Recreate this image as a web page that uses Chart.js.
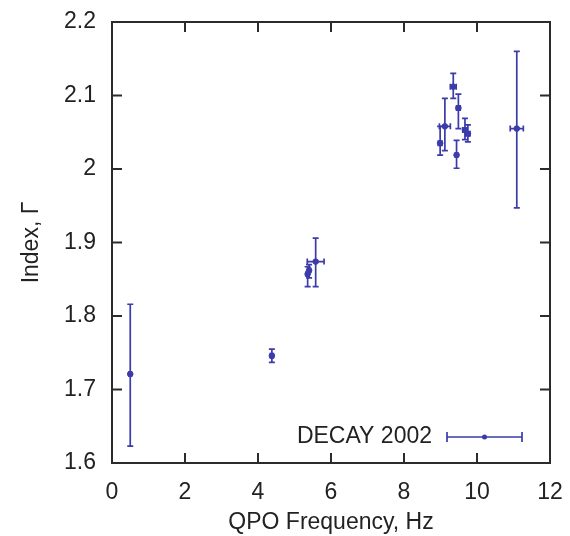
<!DOCTYPE html>
<html>
<head>
<meta charset="utf-8">
<script src="https://cdn.jsdelivr.net/npm/chart.js@4"></script>
<style>
  html, body { margin: 0; padding: 0; background: #fff; }
  #wrap { width: 570px; height: 536px; }
</style>
</head>
<body>
<div id="wrap"><canvas id="graficoQPO"></canvas></div>
<script>
// dados (DECAY 2002)
const freqQPO   = [0.5,   4.38,  5.36,  5.40,  5.58,  8.99,  9.12,  9.35,  9.49,  9.44,  9.67,  9.75,  11.09];
const indice    = [1.721, 1.746, 1.857, 1.862, 1.874, 2.035, 2.058, 2.112, 2.083, 2.019, 2.053, 2.048, 2.055];
const erroFreq  = [0.03,  0.04,  0.04,  0.04,  0.23,  0.05,  0.15,  0.08,  0.05,  0.03,  0.06,  0.06,  0.18];
const indiceMin = [1.623, 1.737, 1.840, 1.852, 1.840, 2.019, 2.025, 2.096, 2.055, 2.001, 2.040, 2.037, 1.947];
const indiceMax = [1.816, 1.755, 1.867, 1.870, 1.906, 2.058, 2.096, 2.130, 2.102, 2.039, 2.069, 2.060, 2.160];

const ticksX = [0, 2, 4, 6, 8, 10, 12];
const ticksY = [1.6, 1.7, 1.8, 1.9, 2.0, 2.1, 2.2];
const nomeSerie = 'DECAY 2002';

const corSerie = '#3b3bab';
const corEixo = '#2b2b2b';
const fonte = '"Liberation Sans", Arial, sans-serif';
const tamFonte = 23;

// zera o padding automatico das escalas, quem manda e o layout.padding
function semPadding(s) {
  s.paddingTop = 0;
  s.paddingBottom = 0;
  s.paddingLeft = 0;
  s.paddingRight = 0;
}

// barras de erro + moldura com ticks pra dentro (estilo gnuplot)
const pluginErros = {
  id: 'pluginErros',
  beforeDatasetsDraw(chart) {
    const ctx = chart.ctx;
    const sx = chart.scales.x, sy = chart.scales.y;
    ctx.save();
    ctx.strokeStyle = corSerie;
    ctx.lineWidth = 1.7;
    const cap = 3;
    freqQPO.forEach((f, i) => {
      const px = sx.getPixelForValue(f);
      const py = sy.getPixelForValue(indice[i]);
      const yTop = sy.getPixelForValue(indiceMax[i]);
      const yBot = sy.getPixelForValue(indiceMin[i]);
      const xL = sx.getPixelForValue(f - erroFreq[i]);
      const xR = sx.getPixelForValue(f + erroFreq[i]);
      ctx.beginPath();
      ctx.moveTo(px, yTop); ctx.lineTo(px, yBot);
      ctx.moveTo(px - cap, yTop); ctx.lineTo(px + cap, yTop);
      ctx.moveTo(px - cap, yBot); ctx.lineTo(px + cap, yBot);
      ctx.moveTo(xL, py); ctx.lineTo(xR, py);
      ctx.moveTo(xL, py - cap); ctx.lineTo(xL, py + cap);
      ctx.moveTo(xR, py - cap); ctx.lineTo(xR, py + cap);
      ctx.stroke();
    });
    ctx.restore();
  },
  afterDraw(chart) {
    const ctx = chart.ctx;
    const a = chart.chartArea;
    const sx = chart.scales.x, sy = chart.scales.y;
    ctx.save();
    ctx.strokeStyle = corEixo;
    ctx.lineWidth = 2;
    ctx.strokeRect(a.left, a.top, a.right - a.left, a.bottom - a.top);
    const tam = 10;
    ctx.beginPath();
    ticksX.forEach(v => {
      const p = sx.getPixelForValue(v);
      ctx.moveTo(p, a.bottom); ctx.lineTo(p, a.bottom - tam);
      ctx.moveTo(p, a.top); ctx.lineTo(p, a.top + tam);
    });
    ticksY.forEach(v => {
      const p = sy.getPixelForValue(v);
      ctx.moveTo(a.left, p); ctx.lineTo(a.left + tam, p);
      ctx.moveTo(a.right, p); ctx.lineTo(a.right - tam, p);
    });
    ctx.stroke();

    // legenda dentro do grafico, canto inferior direito
    const ly = sy.getPixelForValue(1.6) - 26;
    const lx1 = a.left + 335, lx2 = a.left + 410;
    ctx.fillStyle = '#222';
    ctx.font = tamFonte + 'px ' + fonte;
    ctx.textAlign = 'right';
    ctx.textBaseline = 'middle';
    ctx.fillText(nomeSerie, lx1 - 15, ly);
    ctx.strokeStyle = corSerie;
    ctx.lineWidth = 1.7;
    ctx.beginPath();
    ctx.moveTo(lx1, ly); ctx.lineTo(lx2, ly);
    ctx.moveTo(lx1, ly - 5); ctx.lineTo(lx1, ly + 5);
    ctx.moveTo(lx2, ly - 5); ctx.lineTo(lx2, ly + 5);
    ctx.stroke();
    ctx.fillStyle = corSerie;
    ctx.beginPath();
    ctx.arc((lx1 + lx2) / 2, ly, 2.5, 0, Math.PI * 2);
    ctx.fill();
    ctx.restore();
  }
};

document.addEventListener('DOMContentLoaded', () => {
  const ctxQPO = document.getElementById('graficoQPO');

  new Chart(ctxQPO, {
    type: 'scatter',
    data: {
      datasets: [{
        label: nomeSerie,
        data: freqQPO.map((f, i) => ({ x: f, y: indice[i] })),
        backgroundColor: corSerie,
        borderColor: corSerie,
        pointRadius: 2.8,
        pointHoverRadius: 3
      }]
    },
    options: {
      responsive: true,
      maintainAspectRatio: false,
      animation: false,
      layout: { padding: { top: 22, right: 20, left: 0, bottom: 0 } },
      plugins: {
        legend: { display: false },
        tooltip: { enabled: false }
      },
      scales: {
        x: {
          type: 'linear',
          min: 0,
          max: 12,
          afterFit: (s) => { s.height = 73; semPadding(s); },
          afterBuildTicks: (s) => { s.ticks = ticksX.map(v => ({ value: v })); },
          grid: { display: false, drawTicks: false },
          border: { display: false },
          ticks: {
            color: '#222',
            padding: 16,
            font: { family: fonte, size: tamFonte }
          },
          title: {
            display: true,
            text: 'QPO Frequency, Hz',
            color: '#222',
            padding: { top: 0, bottom: 0 },
            font: { family: fonte, size: tamFonte }
          }
        },
        y: {
          type: 'linear',
          min: 1.6,
          max: 2.2,
          afterFit: (s) => { s.width = 112; semPadding(s); },
          afterBuildTicks: (s) => { s.ticks = ticksY.map(v => ({ value: v })); },
          grid: { display: false, drawTicks: false },
          border: { display: false },
          ticks: {
            color: '#222',
            padding: 16,
            font: { family: fonte, size: tamFonte },
            callback: (v) => String(+Number(v).toFixed(1))
          },
          title: {
            display: true,
            text: 'Index, Γ',
            color: '#222',
            padding: { top: 18, bottom: 0 },
            font: { family: fonte, size: tamFonte }
          }
        }
      }
    },
    plugins: [pluginErros]
  });
});
</script>
</body>
</html>
